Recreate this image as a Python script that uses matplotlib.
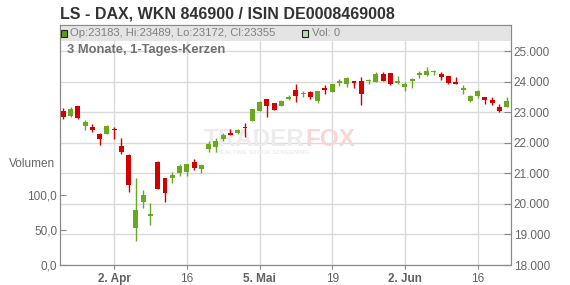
import numpy as np
import pandas as pd
import matplotlib.pyplot as plt
from matplotlib.patches import Rectangle
from matplotlib.ticker import FuncFormatter

plt.rcParams['font.family'] = ['Liberation Sans', 'DejaVu Sans']

# trading days (LS exchange, Good Friday / Easter Monday / 1. Mai closed)
dates = pd.bdate_range('2025-03-24', '2025-06-20')
dates = dates.drop(pd.to_datetime(['2025-04-18', '2025-04-21', '2025-05-01']))

opens = [23037, 22884, 23201, 22557, 22514, 22285, 22295, 22439, 21893, 21598,
         19200, 20071, 19613, 21379, 20846, 20856, 21000, 21052, 21369, 21150,
         21785, 21870, 22121, 22328, 22328, 22524, 22720, 23037, 23430, 23289,
         23211, 23420, 23724, 23593, 23659, 23374, 23790, 23669, 23963, 23930,
         24019, 24019, 24009, 23996, 24248, 24280, 23963, 23822, 24028, 24215,
         24215, 24313, 24248, 24182, 23986, 23734, 23374, 23528, 23495, 23407,
         23168, 23183]
highs = [23126, 23168, 23210, 22753, 22612, 22328, 22579, 22514, 22164, 21631,
         20856, 20453, 20038, 21402, 20846, 21032, 21304, 21304, 21457, 21304,
         22056, 22144, 22328, 22439, 22449, 22635, 23103, 23355, 23430, 23289,
         23397, 23570, 23911, 23692, 23692, 23692, 23888, 23921, 24084, 24150,
         24019, 24140, 24094, 24303, 24313, 24280, 24182, 23976, 24127, 24356,
         24477, 24369, 24313, 24182, 24150, 23888, 23570, 23734, 23495, 23495,
         23257, 23489]
lows = [22776, 22851, 22776, 22426, 22360, 21925, 22275, 22131, 21631, 20398,
        18795, 19855, 19308, 20470, 20071, 20692, 20921, 20911, 21107, 21019,
        21706, 21706, 22056, 22243, 22295, 22197, 22710, 23037, 22851, 23070,
        23201, 23397, 23342, 23505, 23440, 23309, 23594, 23669, 23865, 23832,
        23800, 23234, 23911, 23996, 24028, 23888, 23911, 23701, 23800, 24107,
        24182, 24205, 24051, 23930, 23930, 23593, 23342, 23472, 23266, 23234,
        23014, 23172]
closes = [22841, 23103, 22818, 22687, 22426, 22131, 22547, 22416, 21706, 20617,
          19799, 20290, 19668, 20486, 20365, 20944, 21238, 21304, 21183, 21271,
          21958, 22066, 22252, 22243, 22416, 22471, 23093, 23332, 23211, 23070,
          23374, 23505, 23538, 23616, 23505, 23692, 23734, 23921, 24028, 24117,
          23953, 23593, 24028, 24248, 24028, 23921, 23986, 23921, 24094, 24290,
          24356, 24336, 24159, 23963, 23930, 23757, 23528, 23692, 23407, 23309,
          23047, 23355]
volumes = [0] * len(dates)

tick_dates = ['2025-04-02', '2025-04-16', '2025-05-05', '2025-05-19', '2025-06-02', '2025-06-16']
tick_labels = ['2. Apr', '16', '5. Mai', '19', '2. Jun', '16']
tick_bold = [True, False, True, False, True, False]

RED = '#d20000'
GREEN = '#69a81f'
W, H = 570, 285

fig = plt.figure(figsize=(W / 100, H / 100), dpi=100)
ax = fig.add_axes([60 / W, 20 / H, 451 / W, 240 / H])
# volume axis on the left (twinx resets the tick side, so set sides afterwards)
axv = ax.twinx()

x = np.arange(len(dates))
o = np.array(opens); c = np.array(closes)
up = c >= o
cols = np.where(up, GREEN, RED)
bottom = np.minimum(o, c)
height = np.maximum(np.abs(c - o), 40)
ax.vlines(x, lows, highs, colors=cols, lw=1, zorder=3)
ax.bar(x, height, bottom=bottom, width=0.68, color=cols, zorder=4, linewidth=0)

ax.set_xlim(-0.45, 61.6)
ax.set_ylim(18000, 25851)
ax.set_yticks(np.arange(18000, 25001, 1000))
ax.yaxis.tick_right()
ax.yaxis.set_label_position('right')
ax.yaxis.set_major_formatter(FuncFormatter(lambda v, p: f'{v:,.0f}'.replace(',', '.')))

tick_pos = [dates.get_loc(pd.Timestamp(d)) for d in tick_dates]
ax.set_xticks(tick_pos)
ax.set_xticklabels(tick_labels)
for lab, b in zip(ax.get_xticklabels(), tick_bold):
    lab.set_fontweight('bold' if b else 'normal')

ax.grid(True, color='#dadada', lw=1, zorder=0)
ax.set_axisbelow(True)
ax.tick_params(axis='y', direction='in', length=5, color='#888888', labelcolor='#666666',
               labelsize=8.5, pad=2)
ax.tick_params(axis='x', direction='out', length=3, color='#888888', labelcolor='#606060',
               labelsize=8.5, pad=3)
for s in ax.spines.values():
    s.set_color('#8a8a8a')

axv.bar(x, volumes, width=0.68, color='#a8d8a0')
axv.set_ylim(0, 343)
axv.set_yticks([0, 50, 100])
axv.yaxis.tick_left()
axv.yaxis.set_label_position('left')
axv.yaxis.set_major_formatter(FuncFormatter(lambda v, p: f'{v:.1f}'.replace('.', ',')))
axv.tick_params(axis='y', direction='in', length=4, color='#888888', labelcolor='#666666',
                labelsize=8.5, pad=2)
for s in axv.spines.values():
    s.set_color('#8a8a8a')
fig.text(55 / W, 1 - 164 / H, 'Volumen', ha='right', va='center', fontsize=8.5, color='#666666')

# watermark
wy = 1 - (140 - 25) / 240
ax.text(0.543, wy, 'TRADER', transform=ax.transAxes, ha='right', va='center',
        fontsize=17.5, fontweight='bold', color='#ececec', zorder=1)
ax.text(0.543, wy, 'FOX', transform=ax.transAxes, ha='left', va='center',
        fontsize=17.5, fontweight='bold', color='#f9d6d6', zorder=1)
ax.text(0.45, 1 - (153 - 25) / 240, 'REALTIME STOCK SCREENING', transform=ax.transAxes,
        ha='center', va='center', fontsize=4.5, fontweight='bold', color='#ececec', zorder=1)

# header band
ax.add_patch(Rectangle((0, 1 - 16 / 240), 1, 16 / 240, transform=ax.transAxes,
                       facecolor='#e4e4e4', edgecolor='none', zorder=5))
ax.add_patch(Rectangle((1 / 451, 1 - 12 / 240), 6 / 451, 7 / 240, transform=ax.transAxes,
                       facecolor='#5a9e16', edgecolor='#222222', lw=0.8, zorder=6))
ax.text(10 / 451, 1 - 8 / 240, f'Op:{opens[-1]}, Hi:{highs[-1]}, Lo:{lows[-1]}, Cl:{closes[-1]}',
        transform=ax.transAxes, ha='left', va='center', fontsize=8.1, color='#808080', zorder=6)
ax.add_patch(Rectangle((242 / 451, 1 - 12 / 240), 6 / 451, 7 / 240, transform=ax.transAxes,
                       facecolor='#b5dfae', edgecolor='#222222', lw=0.8, zorder=6))
ax.text(252 / 451, 1 - 8 / 240, f'Vol: {volumes[-1]}', transform=ax.transAxes, ha='left',
        va='center', fontsize=8.1, color='#808080', zorder=6)
ax.text(7 / 451, 1 - 25 / 240, '3 Monate, 1-Tages-Kerzen', transform=ax.transAxes, ha='left',
        va='center', fontsize=9.3, fontweight='bold', color='#707070', zorder=6)

fig.text(60 / W, 1 - 14 / H, 'LS - DAX, WKN 846900 / ISIN DE0008469008', ha='left', va='center',
         fontsize=11.5, fontweight='bold', color='#333333')

fig.savefig('out.png', dpi=100)
